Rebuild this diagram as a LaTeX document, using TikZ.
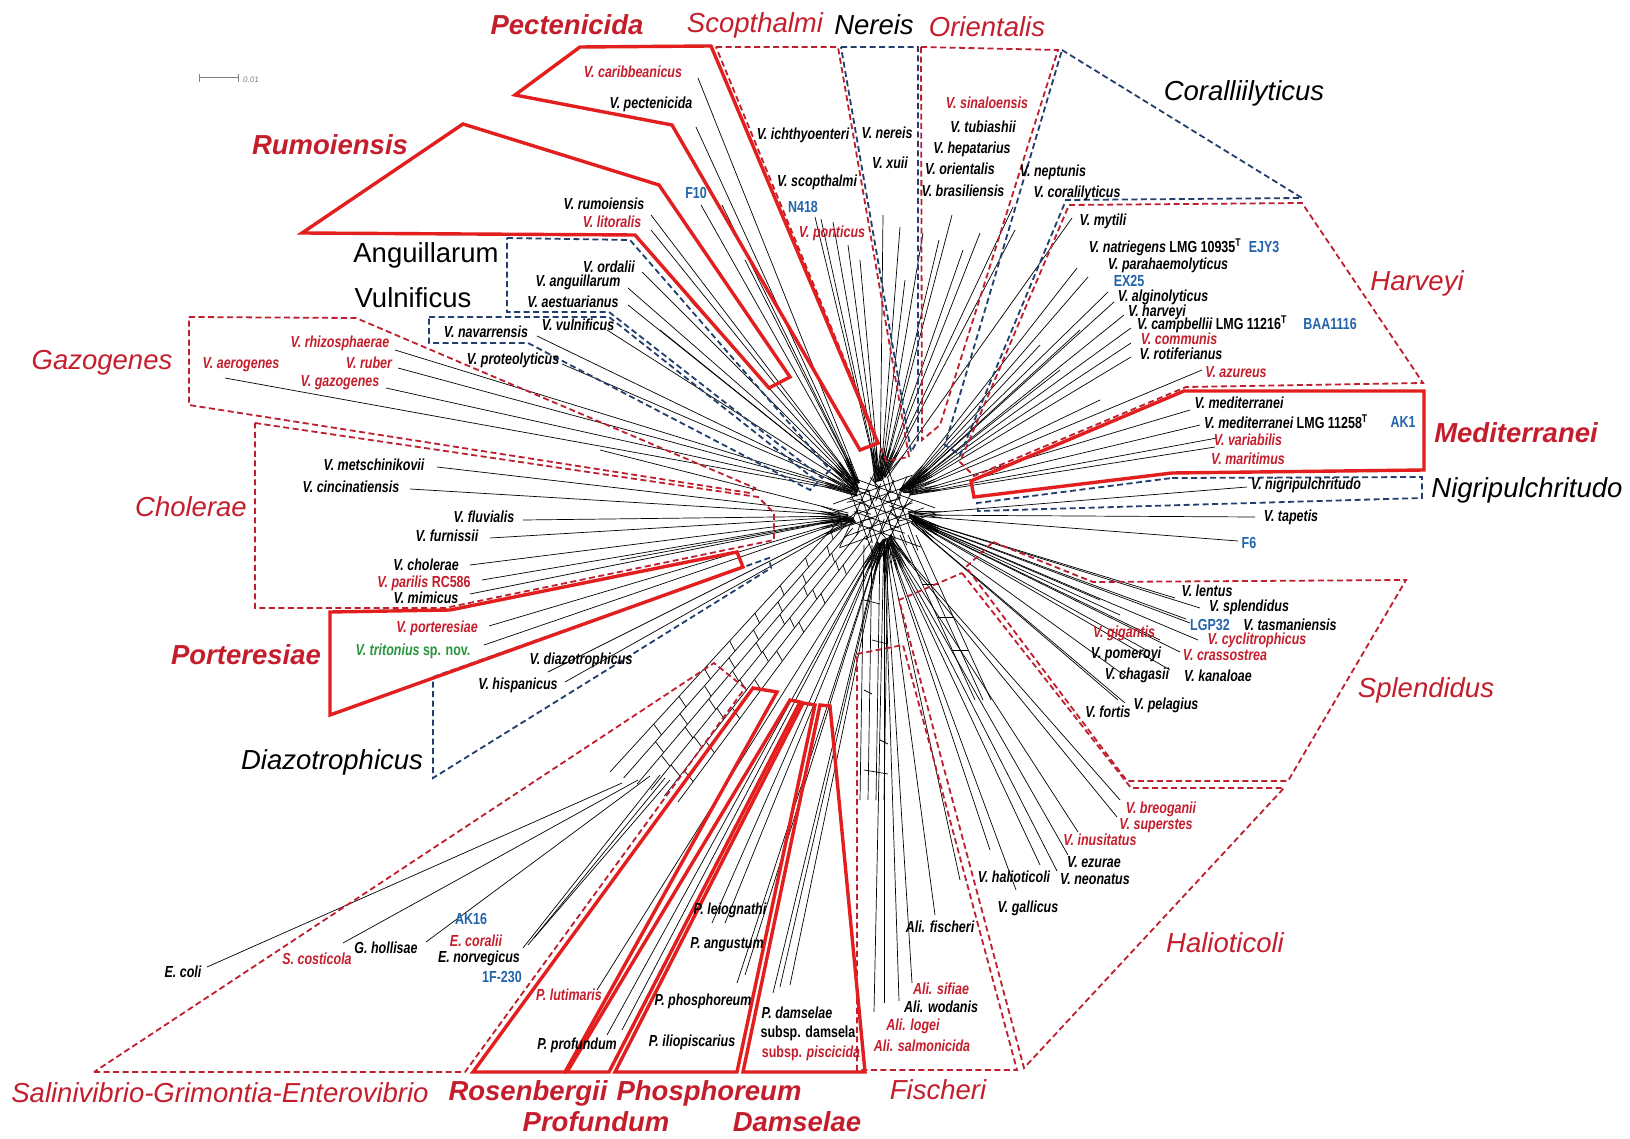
\documentclass[tikz,border=0pt]{standalone}
\usepackage{fontspec}
\setmainfont{Liberation Sans}
\newfontfamily\narrowf[FakeStretch=0.78]{Liberation Sans}
\usetikzlibrary{calc}
\definecolor{tred}{RGB}{196,30,45}
\definecolor{bred}{RGB}{226,30,30}
\definecolor{dred}{RGB}{190,30,45}
\definecolor{dblue}{RGB}{35,62,110}
\definecolor{tblue}{RGB}{35,100,170}
\definecolor{tgreen}{RGB}{40,150,60}
\newcommand\spfont{\fontsize{16}{17}\narrowf\bfseries\itshape}
\newcommand\cdfont{\fontsize{16}{17}\narrowf\bfseries}
\newcommand\gfont{\fontsize{27.5}{30}\selectfont}
\begin{document}
\begin{tikzpicture}[x=1pt,y=-1pt,
  ray/.style={black, line width=0.7pt},
  sbox/.style={draw=bred, line width=3.4pt, line join=miter, miter limit=4},
  rbox/.style={draw=dred, line width=1.8pt, dash pattern=on 6pt off 3.5pt},
  bbox/.style={draw=dblue, line width=1.8pt, dash pattern=on 6pt off 3.5pt},
  lab/.style={font=\spfont, inner sep=0pt, text=black},
  labr/.style={lab, text=tred},
  code/.style={font=\cdfont, inner sep=0pt, text=tblue},
  grp/.style={font=\gfont\itshape, inner sep=0pt, text=tred},
  grpk/.style={font=\gfont\itshape, inner sep=0pt, text=black},
  grpb/.style={font=\gfont\bfseries\itshape, inner sep=0pt, text=tred},
  grpu/.style={font=\gfont, inner sep=0pt, text=black}]
\useasboundingbox (0,0) rectangle (1630,1139);
\fill[white] (0,0) rectangle (1630,1139);

% ---------- hubs ----------
\coordinate (C) at (880,510);
\coordinate (HA) at (864,494);
\coordinate (HB) at (880,488);
\coordinate (HC) at (898,497);
\coordinate (HD) at (902,515);
\coordinate (HE) at (884,532);
\coordinate (HF) at (860,516);

% ---------- central knot: families of parallel splits ----------
\foreach \th/\n in {20/5,70/6,115/5,160/6}{
  \foreach \k in {1,...,\n}{
    \pgfmathsetmacro\off{-26+52*(\k-0.5)/\n}
    \pgfmathsetmacro\len{24+9*mod(\k*7,4)}
    \draw[ray] ($(C)+({\th+90}:\off)+(\th:-\len)$) -- ($(C)+({\th+90}:\off)+(\th:\len)$);
  }
}
\foreach \a in {5,35,...,335}
  \draw[ray] ($(C)+(\a:10)$) -- ($(C)+({\a+25}:22)$) -- ($(C)+({\a+8}:34)$);

% ---------- lower-left mesh band ----------
\coordinate (BA0) at (840,520); \coordinate (BB0) at (872,540);
\coordinate (BA1) at (610,772); \coordinate (BB1) at (678,802);
\foreach \k in {0,...,5}{
  \coordinate (LA\k) at ($(BA0)!\k/5!(BB0)$);
  \coordinate (LB\k) at ($(BA1)!\k/5!(BB1)$);
  \draw[ray] (LA\k) -- (LB\k);
}
\foreach \k in {0,...,4}{
  \pgfmathtruncatemacro\kn{\k+1}
  \foreach \j in {0,...,7}{
    \pgfmathsetmacro\t{0.04+mod(0.11*\j+0.047*\k*\k,0.9)}
    \draw[ray] ($(LA\k)!\t!(LB\k)$) -- ($(LA\kn)!{\t+0.02}!(LB\kn)$);
  }
}
% fischeri band
\foreach \xx in {864,872,880,888}
  \draw[ray] (\xx,545) -- (\xx-4,800);
\foreach \yy/\a/\b in {600/864/880,640/872/888,690/864/872,740/880/888,770/864/888}
  \draw[ray] (\a,\yy) -- (\b,\yy+4);
% halioticoli band
\foreach \d in {0,8,16}
  \draw[ray] (900+\d,535) -- (975+\d,700);
\foreach \t in {0.3,0.5,0.7}
  \draw[ray] ($(900,535)!\t!(975,700)$) -- ($(916,535)!\t!(991,700)$);

% ---------- rays ----------
\foreach \h/\x/\y [count=\i] in {
  HA/698/78, HA/696/127, HA/701/205, HA/651/215, HA/651/230, HA/642/272,
  HA/628/288, HA/628/305, HA/607/330, HA/537/336, HA/562/364, HA/395/350,
  HA/398/368, HA/386/388, HA/225/378, HA/722/205, HA/745/260, HA/690/300,
  HA/660/330,
  HB/815/217, HB/821/219, HB/833/222, HB/848/245, HB/883/215, HB/900/227,
  HB/923/233, HB/939/240, HB/952/215, HB/963/250, HB/980/233, HB/1013/207,
  HB/1015/230, HB/1072/218, HB/860/260, HB/905/280,
  HC/1077/268, HC/1088/277, HC/1108/292, HC/1114/302, HC/1124/315,
  HC/1131/328, HC/1131/343, HC/1131/357, HC/1202/370, HC/1190/410,
  HC/1200/425, HC/1217/438, HC/1215/447, HC/1040/345, HC/1060/370,
  HC/1100/400, HC/1080/330,
  HD/1247/487, HD/1255/517, HD/1238/541, HD/1175/598, HD/1200/608,
  HD/1190/623, HD/1186/619, HD/1198/640, HD/1160/640, HD/1180/652,
  HD/1150/652, HD/1170/670, HD/1128/678, HD/1125/703, HD/1118/700,
  HD/1100/600, HD/1120/615,
  HE/1120/800, HE/1117/817, HE/1078/832, HE/1068/855, HE/1057/871,
  HE/1040/865, HE/1016/890, HE/935/915, HE/912/983, HE/899/1001,
  HE/884/1003, HE/874/1012, HE/990/850, HE/960/880,
  HE/773/993, HE/780/987, HE/790/985, HE/737/983, HE/745/975,
  HE/725/923, HE/712/923, HE/597/990, HE/607/1035, HE/622/1030,
  HF/437/467, HF/410/489, HF/523/520, HF/490/538, HF/470/565, HF/482/580,
  HF/470/594, HF/489/626, HF/484/645, HF/548/672, HF/565/682, HF/600/450,
  HF/620/560}{
  \coordinate (tip\i) at (\x,\y);
  \draw[ray] ($(\h)!12pt!(tip\i)$) -- (tip\i);
  \draw[ray] ($(\h)!7pt!28:(tip\i)$) -- ($(\h)!40pt!(tip\i)$);
}
% rays leaving the lower-left band
\foreach \rx/\ry/\x/\y [count=\i] in {
  622/783/207/967, 638/780/343/943, 650/776/426/942,
  660/775/523/948, 665/778/528/945, 670/780/534/938}{
  \coordinate (sgr\i) at (\rx,\ry);
  \coordinate (sgt\i) at (\x,\y);
  \draw[ray] (sgr\i) -- (sgt\i);
}

% ---------- group boxes ----------
\draw[rbox] (716,47) -- (838,47) -- (909,457) -- (886,461) -- cycle;
\draw[bbox] (841,47) -- (918,47) -- (918,440) -- (911,452) -- cycle;
\draw[rbox] (921,47) -- (1058,50) -- (940,425) -- (922,440) -- cycle;
\draw[bbox] (1062,50) -- (1302,198) -- (1066,200) -- (960,455) -- (945,445) -- cycle;
\draw[rbox] (1069,205) -- (1302,203) -- (1423,383) -- (1186,387) -- (974,476) -- (960,462) -- cycle;
\draw[bbox] (1172,478) -- (1422,477) -- (1422,498) -- (978,511) -- (977,503) -- cycle;
\draw[rbox] (993,542) -- (1093,582) -- (1406,580) -- (1288,781) -- (1127,781) -- (966,567) -- cycle;
\draw[rbox] (962,573) -- (1131,788) -- (1284,788) -- (1024,1068) -- (899,600) -- cycle;
\draw[rbox] (857,654) -- (903,645) -- (1017,1070) -- (857,1070) -- cycle;
\draw[rbox] (94,1072) -- (465,1072) -- (745,688) -- (714,663) -- cycle;
\draw[rbox] (255,423) -- (758,497) -- (774,513) -- (774,540) -- (445,608) -- (255,608) -- cycle;
\draw[rbox] (189,317) -- (356,318) -- (755,488) -- (750,493) -- (189,405) -- cycle;
\draw[bbox] (433,677) -- (769,558) -- (771,568) -- (433,778) -- cycle;
\draw[bbox] (507,238) -- (630,240) -- (830,470) -- (822,478) -- (609,312) -- (507,312) -- cycle;
\draw[bbox] (429,317) -- (609,317) -- (818,482) -- (810,490) -- (528,343) -- (429,343) -- cycle;
\draw[sbox] (580,47) -- (711,46) -- (878,443) -- (860,450) -- (672,125) -- (515,95) -- cycle;
\draw[sbox] (463,124) -- (659,185) -- (790,377) -- (769,388) -- (635,235) -- (302,233) -- cycle;
\draw[sbox] (1184,391) -- (1424,391) -- (1424,470) -- (1172,473) -- (974,497) -- (971,481) -- cycle;
\draw[sbox] (330,612) -- (450,610) -- (737,552) -- (743,567) -- (330,715) -- cycle;
\draw[sbox] (753,688) -- (777,692) -- (565,1072) -- (473,1072) -- cycle;
\draw[sbox] (790,700) -- (800,702) -- (609,1072) -- (567,1072) -- cycle;
\draw[sbox] (803,703) -- (815,705) -- (737,1072) -- (615,1072) -- cycle;
\draw[sbox] (820,705) -- (830,706) -- (865,1072) -- (743,1072) -- cycle;

% ---------- scale bar ----------
\coordinate (sb1) at (199,78); \coordinate (sb2) at (238,78);
\draw[gray, line width=1pt] (sb1) -- (sb2);
\draw[gray, line width=1pt] ($(sb1)+(0,-4)$) -- ($(sb1)+(0,4)$);
\draw[gray, line width=1pt] ($(sb2)+(0,-4)$) -- ($(sb2)+(0,4)$);
\node[font=\fontsize{8}{8}\selectfont\itshape, text=gray, inner sep=0pt] (sbl) at (251,80) {0.01};

% ---------- group labels ----------
\node[grpb] (gPect) at (567,25) {Pectenicida};
\node[grp] (gScop) at (755,25) {Scopthalmi};
\node[grpk] (gNer) at (874,25) {Nereis};
\node[grp] (gOri) at (987,27) {Orientalis};
\node[grpk] (gCor) at (1244,93) {Coralliilyticus};
\node[grpb] (gRum) at (330,145) {Rumoiensis};
\node[grpu] (gAng) at (426,255) {Anguillarum};
\node[grpu] (gVul) at (413,298) {Vulnificus};
\node[grp] (gGaz) at (102,363) {Gazogenes};
\node[grp] (gHar) at (1417,283) {Harveyi};
\node[grpb] (gMed) at (1516,433) {Mediterranei};
\node[grpk] (gNig) at (1527,490) {Nigripulchritudo};
\node[grp] (gCho) at (191,507) {Cholerae};
\node[grpb] (gPor) at (246,655) {Porteresiae};
\node[grp] (gSpl) at (1426,690) {Splendidus};
\node[grpk] (gDia) at (332,762) {Diazotrophicus};
\node[grp] (gHal) at (1225,943) {Halioticoli};
\node[grp] (gSGE) at (220,1093) {Salinivibrio-Grimontia-Enterovibrio};
\node[grpb] (gRos) at (528,1093) {Rosenbergii};
\node[grpb] (gPho) at (709,1093) {Phosphoreum};
\node[grpb] (gPro) at (596,1122) {Profundum};
\node[grpb] (gDam) at (797,1122) {Damselae};
\node[grp] (gFis) at (938,1090) {Fischeri};

% ---------- species labels ----------
\node[labr] (l1) at (633,72) {V. caribbeanicus};
\node[lab] (l2) at (651,104) {V. pectenicida};
\node[code] (l3) at (696,193) {F10};
\node[lab] (l4) at (604,204) {V. rumoiensis};
\node[labr] (l5) at (612,222) {V. litoralis};
\node[lab] (l6) at (609,267) {V. ordalii};
\node[lab] (l7) at (578,282) {V. anguillarum};
\node[lab] (l8) at (573,302) {V. aestuarianus};
\node[lab] (l9) at (486,332) {V. navarrensis};
\node[lab] (l10) at (578,325) {V. vulnificus};
\node[lab] (l11) at (513,360) {V. proteolyticus};
\node[labr] (l12) at (340,343) {V. rhizosphaerae};
\node[labr] (l13) at (369,363) {V. ruber};
\node[labr] (l14) at (340,383) {V. gazogenes};
\node[labr] (l15) at (241,365) {V. aerogenes};

\node[lab] (l16) at (803,135) {V. ichthyoenteri};
\node[lab] (l17) at (817,182) {V. scopthalmi};
\node[code] (l18) at (803,207) {N418};
\node[labr] (l19) at (832,233) {V. ponticus};
\node[lab] (l20) at (887,133) {V. nereis};
\node[lab] (l21) at (890,163) {V. xuii};
\node[labr] (l22) at (987,103) {V. sinaloensis};
\node[lab] (l23) at (983,127) {V. tubiashii};
\node[lab] (l24) at (972,149) {V. hepatarius};
\node[lab] (l25) at (960,169) {V. orientalis};
\node[lab] (l26) at (963,191) {V. brasiliensis};
\node[lab] (l27) at (1053,172) {V. neptunis};
\node[lab] (l28) at (1077,193) {V. coralilyticus};

\node[lab] (l29) at (1103,221) {V. mytili};
\node[lab] (l30) at (1165,247) {V. natriegens {\upshape LMG 10935\textsuperscript{T}}};
\node[code] (l31) at (1264,247) {EJY3};
\node[lab] (l32) at (1168,265) {V. parahaemolyticus};
\node[code] (l33) at (1129,281) {EX25};
\node[lab] (l34) at (1163,297) {V. alginolyticus};
\node[lab] (l35) at (1157,312) {V. harveyi};
\node[lab] (l36) at (1212,324) {V. campbellii {\upshape LMG 11216\textsuperscript{T}}};
\node[code] (l37) at (1330,324) {BAA1116};
\node[labr] (l38) at (1179,339) {V. communis};
\node[lab] (l39) at (1181,354) {V. rotiferianus};
\node[labr] (l40) at (1236,372) {V. azureus};
\node[lab] (l41) at (1239,403) {V. mediterranei};
\node[lab] (l42) at (1286,422) {V. mediterranei {\upshape LMG 11258\textsuperscript{T}}};
\node[code] (l43) at (1403,422) {AK1};
\node[labr] (l44) at (1248,440) {V. variabilis};
\node[labr] (l45) at (1248,459) {V. maritimus};
\node[lab] (l46) at (1306,485) {V. nigripulchritudo};
\node[lab] (l47) at (1291,517) {V. tapetis};
\node[code] (l48) at (1249,543) {F6};

\node[lab] (l49) at (1207,591) {V. lentus};
\node[lab] (l50) at (1249,607) {V. splendidus};
\node[code] (l51) at (1210,625) {LGP32};
\node[lab] (l52) at (1290,625) {V. tasmaniensis};
\node[labr] (l53) at (1124,633) {V. gigantis};
\node[labr] (l54) at (1257,640) {V. cyclitrophicus};
\node[lab] (l55) at (1126,654) {V. pomeroyi};
\node[labr] (l56) at (1225,655) {V. crassostrea};
\node[lab] (l57) at (1137,675) {V. chagasii};
\node[lab] (l58) at (1218,676) {V. kanaloae};
\node[lab] (l59) at (1166,705) {V. pelagius};
\node[lab] (l60) at (1108,712) {V. fortis};

\node[labr] (l61) at (1161,809) {V. breoganii};
\node[labr] (l62) at (1156,826) {V. superstes};
\node[labr] (l63) at (1100,840) {V. inusitatus};
\node[lab] (l64) at (1094,862) {V. ezurae};
\node[lab] (l65) at (1014,877) {V. halioticoli};
\node[lab] (l66) at (1095,879) {V. neonatus};
\node[lab] (l67) at (1028,908) {V. gallicus};
\node[lab] (l68) at (940,927) {Ali. fischeri};
\node[labr] (l69) at (941,989) {Ali. sifiae};
\node[lab] (l70) at (941,1007) {Ali. wodanis};
\node[labr] (l71) at (913,1026) {Ali. logei};
\node[labr] (l72) at (922,1046) {Ali. salmonicida};

\node[lab] (l73) at (374,465) {V. metschinikovii};
\node[lab] (l74) at (351,487) {V. cincinatiensis};
\node[lab] (l75) at (484,517) {V. fluvialis};
\node[lab] (l76) at (447,536) {V. furnissii};
\node[lab] (l77) at (426,565) {V. cholerae};
\node[labr] (l78) at (424,583) {V. parilis {\upshape RC586}};
\node[lab] (l79) at (426,598) {V. mimicus};
\node[labr] (l80) at (437,628) {V. porteresiae};
\node[lab, text=tgreen] (l81) at (413,651) {V. tritonius {\upshape sp. nov.}};
\node[lab] (l82) at (581,660) {V. diazotrophicus};
\node[lab] (l83) at (518,685) {V. hispanicus};

\node[code] (l84) at (471,919) {AK16};
\node[labr] (l85) at (476,941) {E. coralii};
\node[lab] (l86) at (386,948) {G. hollisae};
\node[lab] (l87) at (479,958) {E. norvegicus};
\node[code] (l88) at (502,977) {1F-230};
\node[lab] (l89) at (183,972) {E. coli};
\node[labr] (l90) at (317,959) {S. costicola};
\node[labr] (l91) at (569,995) {P. lutimaris};
\node[lab] (l92) at (577,1045) {P. profundum};
\node[lab] (l93) at (703,1001) {P. phosphoreum};
\node[lab] (l94) at (692,1042) {P. iliopiscarius};
\node[lab] (l95) at (730,910) {P. leiognathi};
\node[lab] (l96) at (727,945) {P. angustum};
\node[lab] (l97) at (797,1013) {P. damselae};
\node[lab, font=\cdfont] (l98) at (808,1033) {subsp. damsela};
\node[labr, font=\cdfont] (l99) at (811,1053) {subsp. \textit{piscicida}};
\end{tikzpicture}
\end{document}
